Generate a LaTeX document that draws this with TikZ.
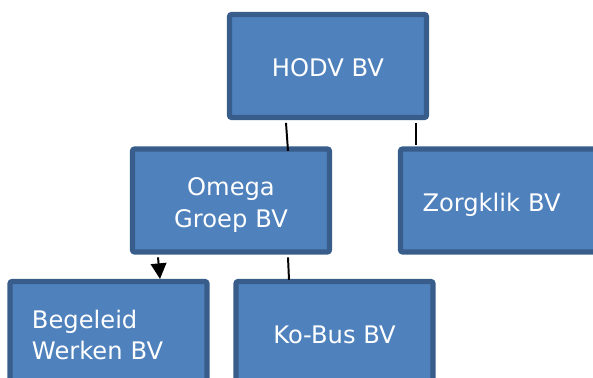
\documentclass[tikz,border=0pt]{standalone}
\usepackage{fontspec}
\setmainfont{DejaVu Sans}
\usepackage{xcolor}
\usepackage{tikz}
\usetikzlibrary{arrows.meta}
\definecolor{boxfill}{HTML}{4F81BD}
\definecolor{boxline}{HTML}{385D8A}
\tikzset{org/.style={rectangle,draw=boxline,fill=boxfill,line width=3.6pt,rounded corners=0.05cm,minimum width=4.925cm,minimum height=2.575cm,text=white,font=\fontsize{17.2}{22.5}\selectfont,align=center,inner sep=0pt,text height=1.56cm,text depth=1.015cm},
  orgtwo/.style={org,text width=4.925cm,text height=1.17cm,text depth=1.405cm},
  orgleft/.style={align=left,text width=3.825cm,inner xsep=0.55cm}}

\begin{document}
\begin{tikzpicture}[>={Triangle[width=0.39cm,length=0.39cm]}]
    \useasboundingbox (0,0) rectangle (14.825,-9.45);
    \node[org] (hodv) at (8.2,-1.65) {HODV BV};
    \node[orgtwo] (omega) at (5.775,-5.0125) {Omega\\Groep BV};
    \node[org,orgleft] (zorg) at (12.475,-5.0125) {Zorgklik BV};
    \node[orgtwo,orgleft] (begel) at (2.7125,-8.325) {Begeleid\\Werken BV};
    \node[org] (kobus) at (8.3625,-8.325) {Ko-Bus BV};
    \coordinate (zfree) at ([xshift=2.2cm,yshift=-0.6125cm]hodv.south);

    \draw [line width=1.4pt] ([xshift=-1.05cm,yshift=-0.07cm]hodv.south) to [] ([xshift=1.425cm,yshift=-0.11cm]omega.north);
    \draw [line width=1.4pt] ([xshift=2.2cm,yshift=-0.07cm]hodv.south) to [] (zfree);
    \draw [line width=1.4pt,->] ([xshift=-1.825cm,yshift=-0.07cm]omega.south) to [] ([xshift=1.2875cm]begel.north);
    \draw [line width=1.4pt] ([xshift=1.425cm,yshift=-0.07cm]omega.south) to [] ([xshift=-1.1375cm,yshift=-0.02cm]kobus.north);
\end{tikzpicture}
\end{document}
